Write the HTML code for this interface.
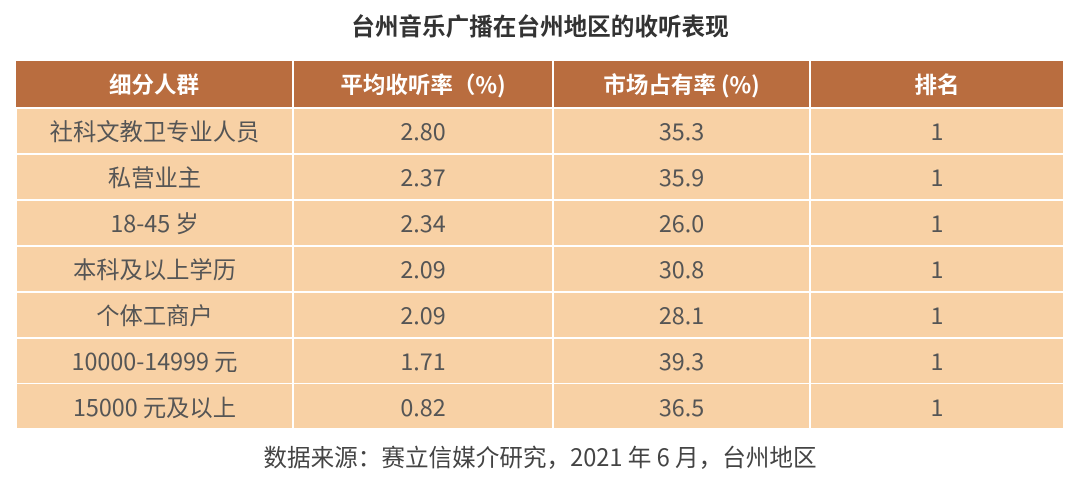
<!DOCTYPE html>
<html><head><meta charset="utf-8">
<style>
body{margin:0;width:1080px;height:495px;background:#fff;overflow:hidden;font-family:"Noto Sans CJK SC","Liberation Sans",sans-serif;position:relative}
.t{position:absolute;left:0;width:1080px;text-align:center;line-height:1}
.c{position:absolute;display:flex;align-items:center;justify-content:center;box-sizing:border-box;line-height:1}
.h{background:#b96d3f;color:#fff;font-size:22.5px;font-weight:bold}
.d{background:#f8d1a5;color:#555;font-size:23.3px}
</style></head><body>
<div class="t" style="top:14px;font-size:23.6px;font-weight:bold;color:#333">台州音乐广播在台州地区的收听表现</div>
<div id="tbl"></div>
<div class="t" style="top:445px;font-size:23.6px;color:#444">数据来源：赛立信媒介研究，2021 年 6 月，台州地区</div>
<script>
const headers=["细分人群","平均收听率（%)","市场占有率 (%)","排名"];
const groups=["社科文教卫专业人员","私营业主","18-45 岁","本科及以上学历","个体工商户","10000-14999 元","15000 元及以上"];
const ratings=["2.80","2.37","2.34","2.09","2.09","1.71","0.82"];
const shares=["35.3","35.9","26.0","30.8","28.1","39.3","36.5"];
const ranks=["1","1","1","1","1","1","1"];
const xs=[16,294,554,811,1065];
const tbl=document.getElementById('tbl');
function cell(x0,x1,y,h,cls,txt,name){
  const e=document.createElement('div');
  e.className='c '+cls;
  e.style.left=x0+'px';e.style.top=y+'px';e.style.width=(x1-x0-2)+'px';e.style.height=h+'px';
  e.textContent=txt;
  
  
  tbl.appendChild(e);
}
headers.forEach((h,i)=>cell(xs[i],xs[i+1],61,46,'h',h,'header-cell'));
const cols=[groups,ratings,shares,ranks];
for(let r=0;r<groups.length;r++){
  const y=109+r*45.9;
  cols.forEach((col,i)=>cell(xs[i]+(i==0?1:0),xs[i+1],y,44,'d',col[r],'data-cell'));
}
</script>
</body></html>
